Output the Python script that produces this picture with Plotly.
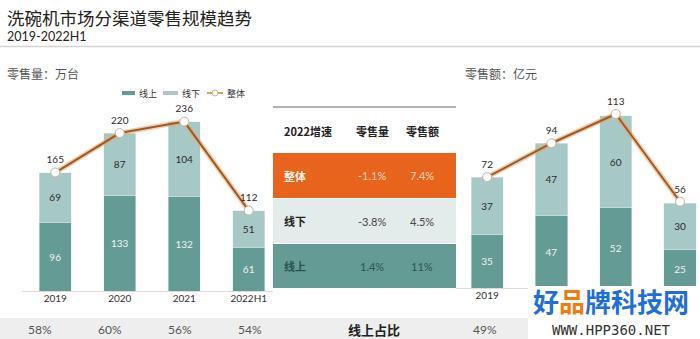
import plotly.graph_objects as go

# ---------------- data ----------------
years = ["2019", "2020", "2021", "2022H1"]
vol_online = [96, 133, 132, 61]
vol_offline = [69, 87, 104, 51]
vol_total = [165, 220, 236, 112]
val_online = [35, 47, 52, 25]
val_offline = [37, 47, 60, 30]
val_total = [72, 94, 113, 56]

table_rows = ["整体", "线下", "线上"]
table_vol_growth = ["-1.1%", "-3.8%", "1.4%"]
table_val_growth = ["7.4%", "4.5%", "11%"]
table_header = ["2022增速", "零售量", "零售额"]

vol_share = [f"{round(o / t * 100)}%" for o, t in zip(vol_online, vol_total)]
val_share = [f"{round(o / t * 100)}%" for o, t in zip(val_online, val_total)]
# only the first right-hand year label / share is visible (rest hidden by watermark)
visible_right = 1

# ---------------- style ----------------
W, H = 700, 339
C_ON = "#649b94"
C_OFF = "#a7c9c5"
C_LINE = "#9a5b2c"
C_GLOW = "rgba(240,160,90,0.55)"
C_ORANGE = "#e8641c"
C_LIGHT = "#e3ebeb"
FONT = "Lato, Noto Sans CJK SC"
CJK = "Noto Sans CJK SC"


def px(x):
    return x / W


def py(y):
    return 1 - y / H


fig = go.Figure()


def add_chart(xa, ya, on, off, tot):
    fig.add_trace(go.Bar(x=years, y=on, marker_color=C_ON, width=0.5,
                         text=[str(v) for v in on], textposition="inside",
                         insidetextanchor="middle", textangle=0,
                         textfont=dict(color="#eef5f3", size=10, family=FONT),
                         xaxis=xa, yaxis=ya, showlegend=False, hoverinfo="skip"))
    fig.add_trace(go.Bar(x=years, y=off, marker_color=C_OFF, width=0.5,
                         text=[str(v) for v in off], textposition="inside",
                         insidetextanchor="middle", textangle=0,
                         textfont=dict(color="#2a2a2a", size=10, family=FONT),
                         xaxis=xa, yaxis=ya, showlegend=False, hoverinfo="skip"))
    fig.add_trace(go.Scatter(x=years, y=tot, mode="lines",
                             line=dict(color=C_GLOW, width=5), cliponaxis=False,
                             xaxis=xa, yaxis=ya, showlegend=False, hoverinfo="skip"))
    fig.add_trace(go.Scatter(x=years, y=tot, mode="lines+markers+text",
                             line=dict(color=C_LINE, width=2), cliponaxis=False,
                             marker=dict(size=9, color="white",
                                         line=dict(color="#c9b39c", width=1)),
                             text=[str(v) for v in tot], textposition="top center",
                             textfont=dict(color="#2a2a2a", size=10, family=FONT),
                             xaxis=xa, yaxis=ya, showlegend=False, hoverinfo="skip"))


add_chart("x", "y", vol_online, vol_offline, vol_total)
add_chart("x2", "y2", val_online, val_offline, val_total)

axis_common = dict(showgrid=False, zeroline=False, showline=False, ticks="",
                   tickfont=dict(size=10, color="#333", family=FONT), fixedrange=True)

fig.update_layout(
    width=W, height=H, margin=dict(l=0, r=0, t=0, b=0),
    paper_bgcolor="white", plot_bgcolor="rgba(0,0,0,0)",
    barmode="stack", bargap=0.5,
    xaxis=dict(domain=[px(23), px(281)], range=[-0.5, 3.5], type="category", **axis_common),
    yaxis=dict(domain=[py(291), py(100)], range=[0, 191 / 0.718], visible=False),
    xaxis2=dict(domain=[px(455), 1], range=[-0.5, -0.5 + 245 / 64.3], type="category",
                anchor="y2", tickvals=years[:visible_right], **axis_common),
    yaxis2=dict(domain=[py(288), py(100)], range=[0, 188 / 1.54], visible=False,
                anchor="x2"),
    font=dict(family=FONT),
)

shapes = []
ann = []

# title rule
shapes.append(dict(type="line", xref="paper", yref="paper", x0=0, x1=1,
                   y0=py(46.5), y1=py(46.5), line=dict(color="#d4d4d4", width=1.5)))
# baselines
shapes.append(dict(type="line", xref="paper", yref="paper", x0=px(22), x1=px(273),
                   y0=py(291.5), y1=py(291.5), line=dict(color="#dcdcdc", width=1)))
shapes.append(dict(type="line", xref="paper", yref="paper", x0=px(456), x1=1,
                   y0=py(288.5), y1=py(288.5), line=dict(color="#dcdcdc", width=1)))

# bottom band
shapes.append(dict(type="rect", xref="paper", yref="paper", x0=0, x1=1,
                   y0=0, y1=py(318), fillcolor="#eeeeee", line=dict(width=0),
                   layer="below"))

# titles
ann.append(dict(text="洗碗机市场分渠道零售规模趋势", x=px(5), y=py(17), xanchor="left",
                yanchor="middle", font=dict(size=17.5, color="#222", family=CJK)))
ann.append(dict(text="2019-2022H1", x=px(5), y=py(36.5), xanchor="left",
                yanchor="middle", font=dict(size=12.5, color="#222", family=FONT)))
ann.append(dict(text="零售量：万台", x=px(5), y=py(73.5), xanchor="left",
                yanchor="middle", font=dict(size=12, color="#555", family=CJK)))
ann.append(dict(text="零售额：亿元", x=px(463), y=py(73.5), xanchor="left",
                yanchor="middle", font=dict(size=12, color="#555", family=CJK)))

# custom legend
leg_y = py(93)
shapes.append(dict(type="line", xref="paper", yref="paper", x0=px(122), x1=px(135),
                   y0=leg_y, y1=leg_y, line=dict(color=C_ON, width=4)))
ann.append(dict(text="线上", x=px(137), y=leg_y, xanchor="left", yanchor="middle",
                font=dict(size=9, color="#333", family=CJK)))
shapes.append(dict(type="line", xref="paper", yref="paper", x0=px(163), x1=px(178),
                   y0=leg_y, y1=leg_y, line=dict(color=C_OFF, width=4)))
ann.append(dict(text="线下", x=px(180), y=leg_y, xanchor="left", yanchor="middle",
                font=dict(size=9, color="#333", family=CJK)))
shapes.append(dict(type="line", xref="paper", yref="paper", x0=px(207), x1=px(223),
                   y0=leg_y, y1=leg_y, line=dict(color="#e0a060", width=2)))
shapes.append(dict(type="circle", xref="paper", yref="paper", x0=px(212), x1=px(218),
                   y0=leg_y - 3 / H, y1=leg_y + 3 / H, fillcolor="white",
                   line=dict(color="#c9b39c", width=1)))
ann.append(dict(text="整体", x=px(225), y=leg_y, xanchor="left", yanchor="middle",
                font=dict(size=9, color="#333", family=CJK)))

# table
tx0, tx1 = 273, 456
shapes.append(dict(type="line", xref="paper", yref="paper", x0=px(tx0), x1=px(tx1),
                   y0=py(107), y1=py(107), line=dict(color="#9a9a9a", width=1.5)))
col_x = [282, 372, 422]
ann.append(dict(text="<b>" + table_header[0] + "</b>", x=px(col_x[0]), y=py(131),
                xanchor="left", yanchor="middle", font=dict(size=11, color="#222", family=CJK)))
for i in (1, 2):
    ann.append(dict(text="<b>" + table_header[i] + "</b>", x=px(col_x[i]), y=py(131),
                    xanchor="center", yanchor="middle",
                    font=dict(size=11, color="#222", family=CJK)))
row_bounds = [(153, 198), (199, 243), (244, 288)]
row_fill = [C_ORANGE, C_LIGHT, C_ON]
row_label_col = ["#fdf2ea", "#222", "#2a534e"]
row_val_col = ["#fbd9c2", "#444", "#2a534e"]
for i, (y0, y1) in enumerate(row_bounds):
    shapes.append(dict(type="rect", xref="paper", yref="paper", x0=px(tx0), x1=px(tx1),
                       y0=py(y1), y1=py(y0), fillcolor=row_fill[i], line=dict(width=0)))
    yc = py((y0 + y1) / 2)
    ann.append(dict(text="<b>" + table_rows[i] + "</b>", x=px(col_x[0]), y=yc,
                    xanchor="left", yanchor="middle",
                    font=dict(size=11, color=row_label_col[i], family=CJK)))
    ann.append(dict(text=table_vol_growth[i], x=px(col_x[1]), y=yc, xanchor="center",
                    yanchor="middle", font=dict(size=11, color=row_val_col[i], family=FONT)))
    ann.append(dict(text=table_val_growth[i], x=px(col_x[2]), y=yc, xanchor="center",
                    yanchor="middle", font=dict(size=11, color=row_val_col[i], family=FONT)))

# share row
for i, s in enumerate(vol_share):
    ann.append(dict(text=s, x=px(40 + 70 * i), y=py(329), xanchor="center",
                    yanchor="middle", font=dict(size=12, color="#555", family=FONT)))
for i, s in enumerate(val_share[:visible_right]):
    ann.append(dict(text=s, x=px(485 + 70 * i), y=py(329), xanchor="center",
                    yanchor="middle", font=dict(size=12, color="#555", family=FONT)))
ann.append(dict(text="<b>线上占比</b>", x=px(374), y=py(329), xanchor="center",
                yanchor="middle", font=dict(size=13, color="#222", family=CJK)))

# watermark
shapes.append(dict(type="rect", xref="paper", yref="paper", x0=px(528), x1=1,
                   y0=0, y1=py(286), fillcolor="white", line=dict(width=0), layer="above"))
ann.append(dict(text="<b>好<span style='color:#f07c12'>品</span>牌科技网</b>",
                x=px(611), y=py(300.5), xanchor="center", yanchor="middle",
                font=dict(size=26, color="#1f6fd6", family=CJK)))
ann.append(dict(text="WWW.HPP360.NET", x=px(611), y=py(329.5), xanchor="center",
                yanchor="middle", font=dict(size=14, color="#333", family="DejaVu Sans Mono")))

for a in ann:
    a.setdefault("xref", "paper")
    a.setdefault("yref", "paper")
    a.setdefault("showarrow", False)

fig.update_layout(shapes=shapes, annotations=ann)
fig.write_html("out.html")
